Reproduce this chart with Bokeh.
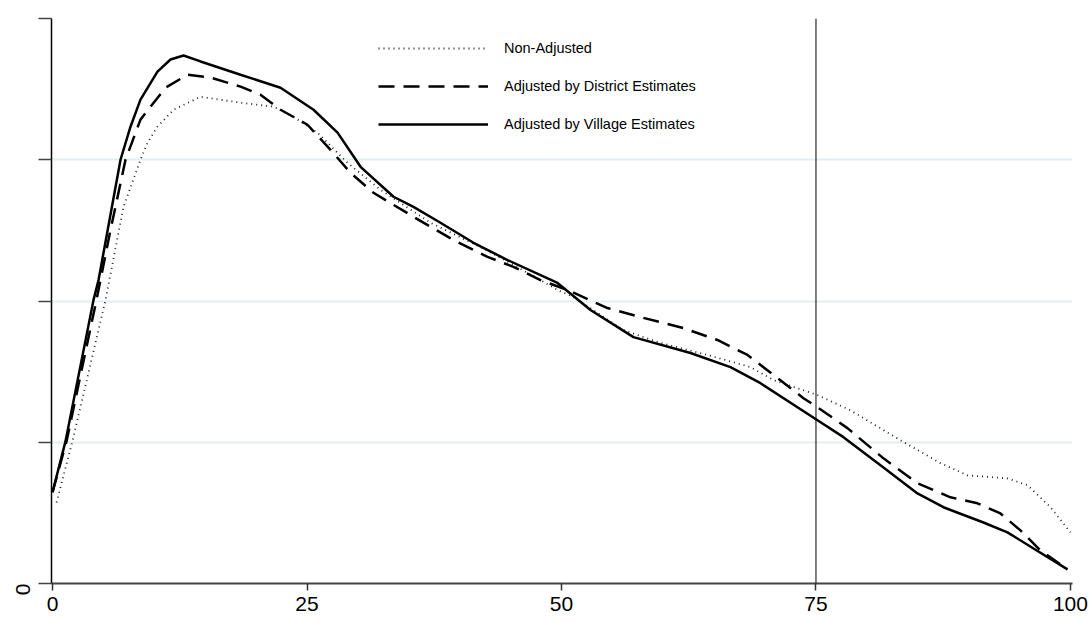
import math
from bokeh.plotting import figure
from bokeh.models import FixedTicker, Span, Legend, LegendItem
from bokeh.embed import file_html
from bokeh.resources import INLINE

# Non-Adjusted (dotted)
x_non = [0.4, 1.96, 5.21, 6.97, 8.64, 9.33, 10.31, 11.89, 14.54, 18.47, 21.71, 23.67,
         26.03, 28.98, 32.22, 37.13, 42.04, 45.28, 49.61, 51.18, 56.09, 59.43, 64.34,
         68.57, 70.83, 73.77, 75.15, 78.39, 83.30, 87.23, 89.88, 93.81, 95.78, 98.04, 100.0]
y_non = [0.00287, 0.00504, 0.01004, 0.01333, 0.01500, 0.01560, 0.01617, 0.01677, 0.01723,
         0.01702, 0.01688, 0.01652, 0.01596, 0.01489, 0.01394, 0.01277, 0.01191, 0.01128,
         0.01039, 0.01014, 0.00897, 0.00855, 0.00809, 0.00766, 0.00720, 0.00684, 0.00667,
         0.00613, 0.00507, 0.00426, 0.00383, 0.00372, 0.00348, 0.00270, 0.00181]

# Adjusted by District Estimates (dashed)
x_dist = [0.0, 1.38, 4.32, 5.70, 7.17, 8.64, 9.63, 11.10, 13.26, 15.52, 18.47, 20.43, 22.40,
          25.05, 27.31, 29.27, 31.53, 35.46, 39.39, 42.73, 45.28, 47.94, 50.59, 54.52, 57.76,
          61.98, 65.32, 68.27, 70.83, 73.77, 75.15, 78.09, 81.63, 84.97, 88.21, 90.86, 93.12,
          95.09, 97.05, 99.71]
y_dist = [0.00323, 0.00504, 0.01004, 0.01252, 0.01500, 0.01642, 0.01688, 0.01755, 0.01801,
          0.01791, 0.01759, 0.01730, 0.01677, 0.01624, 0.01535, 0.01454, 0.01383, 0.01298,
          0.01216, 0.01156, 0.01121, 0.01074, 0.01039, 0.00975, 0.00943, 0.00904, 0.00862,
          0.00809, 0.00738, 0.00656, 0.00624, 0.00550, 0.00443, 0.00355, 0.00305, 0.00284,
          0.00248, 0.00188, 0.00117, 0.00050]

# Adjusted by Village Estimates (solid)
x_vill = [0.0, 1.28, 4.03, 4.52, 6.68, 7.66, 8.64, 10.31, 11.59, 12.87, 14.54, 18.47, 22.40,
          25.64, 28.00, 30.26, 33.50, 35.46, 38.11, 41.36, 44.70, 49.61, 52.85, 57.07, 62.67,
          66.60, 69.55, 75.15, 77.70, 81.63, 84.97, 87.52, 91.45, 93.81, 96.37, 99.71]
y_vill = [0.00323, 0.00504, 0.01004, 0.01074, 0.01500, 0.01617, 0.01713, 0.01812, 0.01855,
          0.01869, 0.01848, 0.01801, 0.01755, 0.01677, 0.01596, 0.01475, 0.01369, 0.01333,
          0.01277, 0.01206, 0.01145, 0.01064, 0.00968, 0.00872, 0.00816, 0.00766, 0.00709,
          0.00578, 0.00518, 0.00411, 0.00319, 0.00270, 0.00216, 0.00181, 0.00124, 0.00050]

x_ticks = [0, 25, 50, 75, 100]
y_ticks = [0, 0.005, 0.01, 0.015, 0.02]
y_tick_labels = {0: "0", 0.005: "", 0.01: "", 0.015: "", 0.02: ""}
vline_at = 75
labels = ["Non-Adjusted", "Adjusted by District Estimates", "Adjusted by Village Estimates"]

FONT = "Liberation Sans"

p = figure(width=1088, height=620, output_backend="svg", toolbar_location=None,
           x_range=(-0.1, 100.2), y_range=(0, 0.02),
           min_border_left=51, min_border_top=18, min_border_right=16, min_border_bottom=37)
p.outline_line_color = None
p.background_fill_color = "white"
p.border_fill_color = "white"

p.xgrid.visible = False
p.ygrid.grid_line_color = "#e4edf0"
p.ygrid.grid_line_width = 2
p.ygrid.ticker = FixedTicker(ticks=y_ticks)

p.xaxis.ticker = FixedTicker(ticks=x_ticks)
p.yaxis.ticker = FixedTicker(ticks=y_ticks)
p.yaxis.major_label_overrides = y_tick_labels
p.yaxis.major_label_orientation = math.pi / 2
p.xaxis.minor_tick_line_color = None
p.yaxis.minor_tick_line_color = None
p.xaxis.major_tick_in = 0
p.xaxis.major_tick_out = 7
p.yaxis.major_tick_in = 0
p.yaxis.major_tick_out = 13
p.xaxis.axis_line_color = "#444444"
p.xaxis.axis_line_width = 2
p.yaxis.axis_line_color = "black"
p.yaxis.axis_line_width = 1.5
p.xaxis.major_tick_line_color = "#333333"
p.yaxis.major_tick_line_color = "#444444"
p.xaxis.major_tick_line_width = 1.5
p.yaxis.major_tick_line_width = 1.5
for ax in (p.xaxis, p.yaxis):
    ax.major_label_text_font = FONT
    ax.major_label_text_font_size = "21px"
    ax.major_label_text_color = "black"
p.xaxis.major_label_standoff = 6
p.yaxis.major_label_standoff = 16

r_non = p.line(x_non, y_non, line_color="#222222", line_width=1.8, line_dash="1 4")
r_dist = p.line(x_dist, y_dist, line_color="black", line_width=2.5, line_dash="16 9")
r_vill = p.line(x_vill, y_vill, line_color="black", line_width=2.5)

p.add_layout(Span(location=vline_at, dimension="height", line_color="black", line_width=1))

legend = Legend(items=[LegendItem(label=labels[0], renderers=[r_non]),
                       LegendItem(label=labels[1], renderers=[r_dist]),
                       LegendItem(label=labels[2], renderers=[r_vill])],
                location=(327, 449), orientation="vertical")
legend.border_line_color = None
legend.background_fill_alpha = 0
legend.padding = 0
legend.margin = 0
legend.glyph_width = 110
legend.glyph_height = 20
legend.spacing = 18
legend.label_standoff = 16
legend.label_text_font = FONT
legend.label_text_font_size = "14.5px"
legend.label_text_color = "black"
p.add_layout(legend, "center")

open("out.html", "w").write(file_html(p, INLINE))
